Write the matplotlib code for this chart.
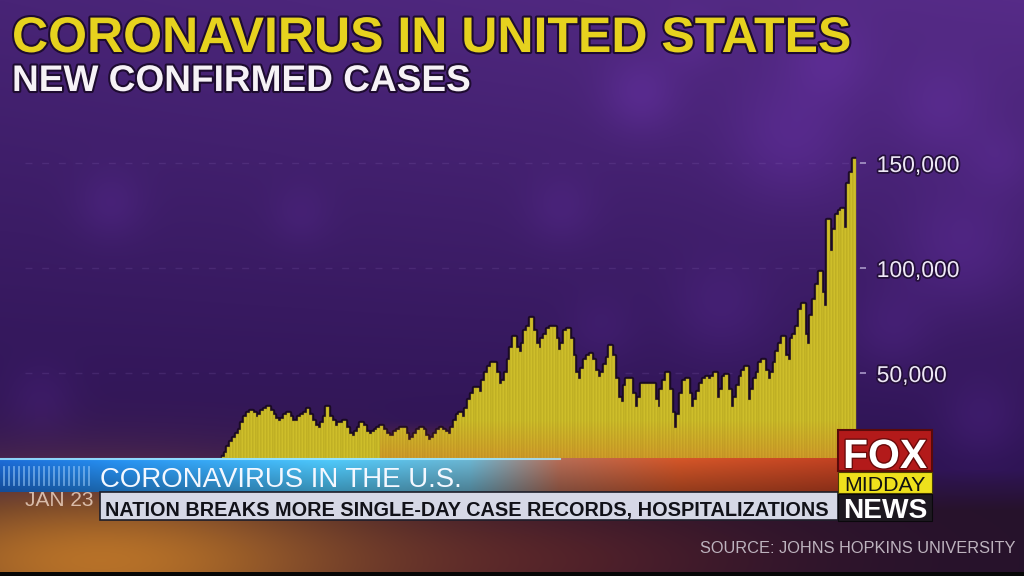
import numpy as np
import matplotlib
matplotlib.use('Agg')
import matplotlib.pyplot as plt
import matplotlib.patheffects as pe
from matplotlib.patches import Rectangle

# ---- chart content ----
title = 'CORONAVIRUS IN UNITED STATES'
subtitle = 'NEW CONFIRMED CASES'
first_label = 'JAN 23'
source = 'SOURCE: JOHNS HOPKINS UNIVERSITY'
banner_top = 'CORONAVIRUS IN THE U.S.'
banner_main = 'NATION BREAKS MORE SINGLE-DAY CASE RECORDS, HOSPITALIZATIONS'
logo_words = ['FOX', 'MIDDAY', 'NEWS']

y_ticks = [50000, 100000, 150000]
y_tick_labels = ['50,000', '100,000', '150,000']

# first bar tall enough to show above the banner, in days after Jan 23
first_day = 70
# daily new cases, thousands
new_cases_k = [
    10, 12, 15, 17, 19, 21, 23, 26, 29, 31,
    32, 31, 29, 30, 32, 33, 34, 32, 30, 28,
    27, 28, 30, 31, 29, 27, 27, 29, 30, 31,
    33, 30, 27, 25, 24, 26, 29, 34, 29, 27,
    25, 26, 26, 27, 24, 21, 20, 22, 24, 26,
    25, 22, 21, 22, 23, 24, 25, 23, 21, 20,
    20, 22, 23, 24, 24, 21, 18, 19, 21, 23,
    24, 23, 20, 18, 19, 21, 23, 24, 23, 22,
    21, 24, 27, 30, 31, 29, 33, 37, 40, 43,
    43, 41, 46, 50, 53, 55, 55, 50, 45, 46,
    50, 56, 62, 67, 62, 60, 64, 70, 72, 76,
    70, 64, 62, 66, 68, 71, 72, 72, 66, 61,
    64, 70, 71, 66, 58, 50, 47, 52, 56, 58,
    59, 56, 51, 48, 50, 54, 57, 63, 58, 47,
    38, 36, 44, 47, 47, 40, 34, 38, 45, 45,
    45, 45, 45, 37, 34, 42, 46, 50, 42, 31,
    24, 30, 40, 46, 47, 40, 34, 37, 41, 45,
    47, 48, 47, 48, 50, 38, 42, 48, 49, 42,
    34, 38, 44, 48, 51, 53, 37, 42, 47, 50,
    55, 56, 51, 47, 50, 55, 60, 64, 67, 58,
    56, 66, 68, 72, 80, 83, 68, 64, 77, 85,
    92, 98, 88, 82, 123, 108, 118, 125, 127, 128,
    119, 140, 145, 152,
]

days = np.arange(len(new_cases_k)) + first_day
cases = np.array(new_cases_k) * 1000

W, H = 1024, 576
NARROW = ['Liberation Sans Narrow', 'Liberation Sans', 'DejaVu Sans']

fig = plt.figure(figsize=(W / 100, H / 100), dpi=100)

# ---- purple studio background ----
Y, X = np.mgrid[0:H, 0:W].astype(float)
t = np.clip(Y / 460, 0, 1)[..., None]
img = np.array([72, 36, 118]) / 255 * (1 - t) + np.array([46, 20, 84]) / 255 * t
img = img + (X / W * 0.07)[..., None] * np.array([0.8, 0.4, 1.0]) * (1 - t)
blobs = [(640, 95, 28, .10), (790, 140, 45, .10), (720, 310, 35, .07),
         (960, 250, 45, .10), (560, 210, 25, .06), (300, 215, 22, .05),
         (110, 205, 25, .07), (40, 400, 25, .06), (980, 420, 30, .08),
         (890, 330, 30, .07), (940, 110, 35, .08), (690, 40, 20, .06),
         (830, 60, 30, .08), (1000, 160, 25, .06), (600, 330, 25, .05)]
for cx, cy, r, a in blobs:
    g = a * np.exp(-((X - cx) ** 2 + (Y - cy) ** 2) / (2 * r ** 2))
    img = img + g[..., None] * np.array([0.55, 0.25, 0.85])

# bottom: dark floor with an orange glow at lower left
floor = np.clip((Y - 470) / 40, 0, 1)[..., None]
img = img * (1 - floor) + np.array([38, 18, 44]) / 255 * floor
red = 0.55 * np.exp(-((X - 520) / 260) ** 2 - ((Y - 560) / 60) ** 2)
img = img * (1 - red[..., None]) + np.array([110, 40, 40]) / 255 * red[..., None]
glow = 0.95 * np.exp(-((X - 100) / 280) ** 2 - ((Y - 560) / 80) ** 2)
img = img * (1 - glow[..., None]) + np.array([190, 118, 40]) / 255 * glow[..., None]
img[572:, :, :] = 0.03
img = np.clip(img, 0, 1)

bg = fig.add_axes([0, 0, 1, 1], zorder=0)
bg.imshow(img, extent=[0, W, H, 0], aspect='auto', interpolation='bilinear')
bg.set_xlim(0, W)
bg.set_ylim(H, 0)
bg.axis('off')

# ---- the bar chart itself ----
px_per_day = 2.83
x0_px, x1_px, base_px, top_px = 25, 860, 478, 140
ax = fig.add_axes([x0_px / W, (H - base_px) / H, (x1_px - x0_px) / W,
                   (base_px - top_px) / H], zorder=1)
ax.set_xlim(0, (x1_px - x0_px) / px_per_day)
ax.set_ylim(0, (base_px - top_px) / 105 * 50000)
ax.patch.set_alpha(0)
for s in ax.spines.values():
    s.set_visible(False)

for v in y_ticks:
    ax.axhline(v, color='#9a78c8', lw=1, ls=(0, (5, 7)), alpha=0.16, zorder=0)

ax.step(days, cases, where='mid', color='#16081c', lw=3.2, alpha=0.85, zorder=1)
ax.bar(days, cases, width=1.0, color='#cebe2a', edgecolor='#ac9c1c',
       linewidth=0.3, zorder=2)

ax.yaxis.tick_right()
ax.set_yticks(y_ticks)
ax.set_yticklabels(y_tick_labels)
ax.tick_params(axis='y', length=4.5, width=1.2, color='#a898c8', pad=7.5,
               labelsize=16.5, labelcolor='#eee8f6')
for lab in ax.get_yticklabels():
    lab.set_family(['Liberation Sans', 'DejaVu Sans'])
    lab.set_path_effects([pe.withStroke(linewidth=2.5, foreground='#24103a')])

ax.set_xticks([0])
ax.set_xticklabels([first_label])
ax.tick_params(axis='x', length=0, pad=9, labelsize=15, labelcolor='#ead0bf')
for lab in ax.get_xticklabels():
    lab.set_ha('left')
    lab.set_alpha(0.85)
    lab.set_family(NARROW)

# ---- overlay layer: titles, banner, logo ----
ov = fig.add_axes([0, 0, 1, 1], zorder=2)
ov.set_xlim(0, W)
ov.set_ylim(H, 0)
ov.patch.set_alpha(0)
ov.axis('off')
renderer = fig.canvas.get_renderer()


def fit_text(x, y, s, width, **kw):
    txt = ov.text(x, y, s, va='baseline', **kw)
    w = txt.get_window_extent(renderer).width
    txt.set_fontsize(txt.get_fontsize() * width / w)
    return txt


shadow = [pe.withStroke(linewidth=3, foreground='#1e0c30')]
fit_text(12, 52, title, 838, family=NARROW, weight='bold', fontsize=40,
         color='#e6d21e', path_effects=shadow)
fit_text(12, 91, subtitle, 458, family=NARROW, weight='bold', fontsize=26,
         color='#f6f2f6', path_effects=shadow)

# orange wash at the foot of the bars
wash = np.zeros((40, 2, 4))
wash[..., :3] = np.array([210, 90, 40]) / 255
wash[..., 3] = np.linspace(0, 0.35, 40)[:, None]
ov.imshow(wash, extent=[380, 840, 460, 420], aspect='auto', zorder=0)

# blue lower-third bar fading to orange
stops_x = [0, 120, 330, 470, 560, 680, 838]
stops_c = np.array([(25, 95, 190), (35, 130, 215), (70, 178, 222),
                    (95, 160, 185), (160, 95, 75), (185, 75, 35),
                    (170, 58, 30)]) / 255
xs = np.linspace(0, 838, 400)
row = np.stack([np.interp(xs, stops_x, stops_c[:, k]) for k in range(3)], -1)
shade = np.linspace(1.15, 0.8, 34)[:, None, None]
blue = np.clip(row[None, :, :] * shade, 0, 1)
ov.imshow(blue, extent=[0, 838, 492, 458], aspect='auto', zorder=1)
ov.plot([0, 560], [458.5, 458.5], color='#a8ecff', lw=1.5, alpha=0.8, zorder=2)
for sx in range(4, 92, 5):
    ov.plot([sx, sx], [467, 485], color='#a6d4ff', lw=1.3, alpha=0.55, zorder=2)
fit_text(100, 487, banner_top, 362, family=NARROW, fontsize=22,
         color='#f4f8ff', zorder=3)

ov.add_patch(Rectangle((100, 492), 738, 28, fc='#d6d8e6', ec='#1e1e2a',
                       lw=1.2, zorder=3))
fit_text(105, 516, banner_main, 723, family=NARROW, weight='bold',
         fontsize=17, color='#111118', zorder=4)

# station logo
ov.add_patch(Rectangle((838, 430), 94, 41, fc='#b31a1a', ec='#5a0a0a',
                       lw=1.5, zorder=3))
ov.add_patch(Rectangle((838, 472), 94, 21, fc='#eee01c', ec='#4a4000',
                       lw=0.8, zorder=3))
ov.add_patch(Rectangle((838, 494), 94, 27, fc='#1d1820', ec='#0a080c',
                       lw=0.8, zorder=3))
fit_text(843, 468, logo_words[0], 84, family=NARROW, weight='bold',
         fontsize=30, color='white', zorder=4,
         path_effects=[pe.withStroke(linewidth=2, foreground='#6a0a0a')])
fit_text(844, 491, logo_words[1], 82, family=NARROW, fontsize=16,
         color='#111111', zorder=4)
fit_text(843, 518, logo_words[2], 84, family=NARROW, weight='bold',
         fontsize=22, color='white', zorder=4)

fit_text(700, 553, source, 314, family=NARROW, fontsize=13,
         color='#bdb3be', zorder=4)

fig.savefig('out.png', dpi=100)
